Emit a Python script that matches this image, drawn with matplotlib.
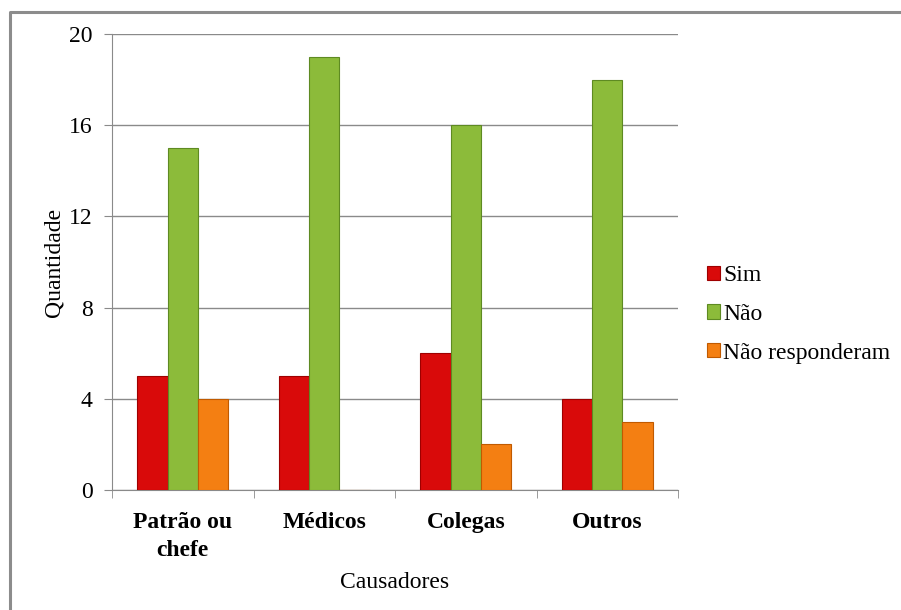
import numpy as np
import matplotlib.pyplot as plt
from matplotlib.lines import Line2D

categorias = ['Patrão ou\nchefe', 'Médicos', 'Colegas', 'Outros']
series = ['Sim', 'Não', 'Não responderam']
sim = [5, 5, 6, 4]
nao = [15, 19, 16, 18]
nao_resp = [4, 0, 2, 3]
cores = ['#D90A0A', '#8CBB3A', '#F47F12']
bordas = ['#9E0000', '#5E8A22', '#C05A00']

plt.rcParams['font.family'] = ['Liberation Serif', 'DejaVu Serif']
fs = 17

fig = plt.figure(figsize=(9.01, 6.10), dpi=100)
# moldura: so topo e esquerda visiveis
fig.lines.append(Line2D([9.5 / 901, 9.5 / 901, 1.0], [0.0, 1 - 11.5 / 610, 1 - 11.5 / 610],
                        transform=fig.transFigure, color='#8c8c8c', linewidth=2.2))
ax = fig.add_axes([112 / 901, 120 / 610, 566 / 901, 456 / 610])

x = np.arange(len(categorias))
w = 0.215
for i, vals in enumerate([sim, nao, nao_resp]):
    ax.bar(x + (i - 1) * w, vals, width=w, color=cores[i], edgecolor=bordas[i],
           linewidth=0.8, label=series[i], zorder=3)

ax.set_xlim(-0.5, 3.5)
ax.set_ylim(0, 20)
ax.set_yticks([0, 4, 8, 12, 16, 20])
ax.yaxis.grid(True, color='#8a8a8a', linewidth=1, zorder=0)
ax.set_xticks(x)
ax.set_xticklabels(categorias, fontsize=fs, fontweight='bold', linespacing=1.4)
ax.set_xticks(np.arange(-0.5, 4, 1), minor=True)
ax.tick_params(axis='x', which='major', length=0, pad=16)
ax.tick_params(axis='x', which='minor', length=6, color='#8a8a8a')
ax.tick_params(axis='y', labelsize=fs, length=6, color='#8a8a8a', pad=8)
for s in ['top', 'right']:
    ax.spines[s].set_visible(False)
ax.spines['left'].set_color('#8a8a8a')
ax.spines['bottom'].set_color('#8a8a8a')

ax.set_ylabel('Quantidade', fontsize=fs, labelpad=3)
ax.set_xlabel('Causadores', fontsize=fs, labelpad=8)

ax.legend(loc='center left', bbox_to_anchor=(1.03, 0.385), frameon=False,
          fontsize=fs, handlelength=0.55, handleheight=0.55, handletextpad=0.15,
          labelspacing=0.75, borderpad=0)

fig.savefig('out.png', dpi=100)
